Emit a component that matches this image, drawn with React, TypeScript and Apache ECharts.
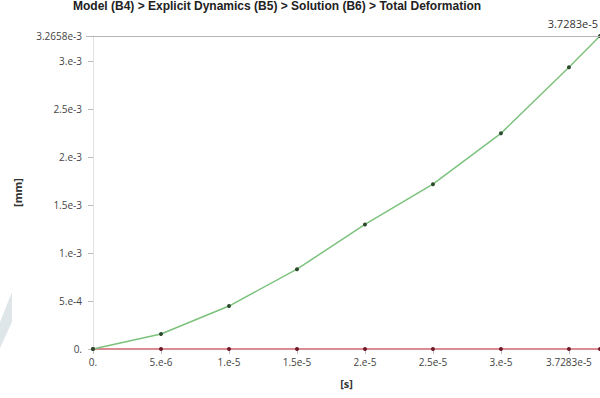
import React, { useEffect, useRef } from "react";
import * as echarts from "echarts";

const titleText = "Model (B4) > Explicit Dynamics (B5) > Solution (B6) > Total Deformation";
const timeValues = [0, 5e-6, 1e-5, 1.5e-5, 2e-5, 2.5e-5, 3e-5, 3.5e-5, 3.7283e-5];
const totalDeformationMax = [0, 1.56e-4, 4.48e-4, 8.33e-4, 1.3e-3, 1.72e-3, 2.25e-3, 2.94e-3, 3.2658e-3];
const totalDeformationMin = [0, 0, 0, 0, 0, 0, 0, 0, 0];

const xTickValues = [0, 5e-6, 1e-5, 1.5e-5, 2e-5, 2.5e-5, 3e-5, 3.5e-5];
const xTickLabels = ["0.", "5.e-6", "1.e-5", "1.5e-5", "2.e-5", "2.5e-5", "3.e-5", "3.7283e-5"];
const yTickValues = [0, 5e-4, 1e-3, 1.5e-3, 2e-3, 2.5e-3, 3e-3, 3.2658e-3];
const yTickLabels = ["0.", "5.e-4", "1.e-3", "1.5e-3", "2.e-3", "2.5e-3", "3.e-3", "3.2658e-3"];

const xMax = 3.7283e-5;
const yMax = 3.2658e-3;
const xMaxLabel = "3.7283e-5";

function lookup(values: number[], labels: string[], v: number, tol: number) {
  for (let i = 0; i < values.length; i++) {
    if (Math.abs(values[i] - v) < tol) return labels[i];
  }
  return "";
}

export default function App() {
  const ref = useRef<HTMLDivElement>(null);
  useEffect(() => {
    if (!ref.current) return;
    const chart = echarts.init(ref.current, null, { renderer: "svg" });
    const font = "Open Sans";
    chart.setOption({
      animation: false,
      backgroundColor: "#ffffff",
      title: {
        text: titleText,
        left: 68,
        top: -5,
        textStyle: { fontSize: 12, fontWeight: "bold", fontFamily: "Liberation Sans", color: "#222" },
      },
      graphic: [
        {
          type: "polygon",
          shape: { points: [[0, 322], [12, 292], [12, 322], [0, 348]] },
          style: { fill: "#dfe6ea" },
          silent: true,
        },
        {
          type: "text",
          x: 598,
          y: 23,
          style: {
            text: xMaxLabel,
            fill: "#333",
            font: "11px 'Open Sans'",
            textAlign: "right",
            textVerticalAlign: "middle",
          },
        },
      ],
      grid: { left: 93, right: -3, top: 36, bottom: 49 },
      xAxis: {
        type: "value",
        min: 0,
        max: xMax,
        interval: 5e-6,
        name: "[s]",
        nameLocation: "middle",
        nameGap: 29,
        nameTextStyle: { fontSize: 11, fontWeight: "bold", color: "#333", fontFamily: font },
        axisLine: { show: true, lineStyle: { color: "#cccccc" } },
        axisTick: { show: true, length: 5, lineStyle: { color: "#bbbbbb" } },
        splitLine: { show: false },
        axisLabel: {
          margin: 8,
          fontSize: 10,
          fontFamily: font,
          color: "#444",
          showMaxLabel: false,
          formatter: (v: number) => lookup(xTickValues, xTickLabels, v, 1e-9),
        },
      },
      yAxis: {
        type: "value",
        min: 0,
        max: yMax,
        interval: 5e-4,
        name: "[mm]",
        nameLocation: "middle",
        nameGap: 70,
        nameRotate: 90,
        nameTextStyle: { fontSize: 11, fontWeight: "bold", color: "#333", fontFamily: font },
        axisLine: { show: true, lineStyle: { color: "#e2e2e2" } },
        axisTick: { show: true, length: 5, lineStyle: { color: "#bbbbbb" } },
        splitLine: { show: false },
        axisLabel: {
          margin: 11,
          fontSize: 10,
          fontFamily: font,
          color: "#444",
          showMaxLabel: true,
          formatter: (v: number) => lookup(yTickValues, yTickLabels, v, 1e-7),
        },
      },
      series: [
        {
          type: "line",
          name: "Minimum",
          data: timeValues.map((t, i) => [t, totalDeformationMin[i]]),
          symbol: "circle",
          symbolSize: 4,
          showAllSymbol: true,
          lineStyle: { color: "#d9606a", width: 1.5 },
          itemStyle: { color: "#6e1a2a" },
          z: 2,
        },
        {
          type: "line",
          name: "Maximum",
          data: timeValues.map((t, i) => [t, totalDeformationMax[i]]),
          symbol: "circle",
          symbolSize: 4,
          showAllSymbol: true,
          lineStyle: { color: "#7cc27c", width: 1.5 },
          itemStyle: { color: "#2e4a2e" },
          z: 3,
          markLine: {
            silent: true,
            symbol: "none",
            label: { show: false },
            lineStyle: { color: "#b5b5b5", width: 1, type: "solid" },
            data: [[{ x: 86, yAxis: yMax }, { x: 600, yAxis: yMax }]],
          },
        },
      ],
    });
    return () => chart.dispose();
  }, []);
  return (
    <div
      ref={ref}
      style={{ position: "fixed", left: 0, top: 0, width: 600, height: 398 }}
    />
  );
}
